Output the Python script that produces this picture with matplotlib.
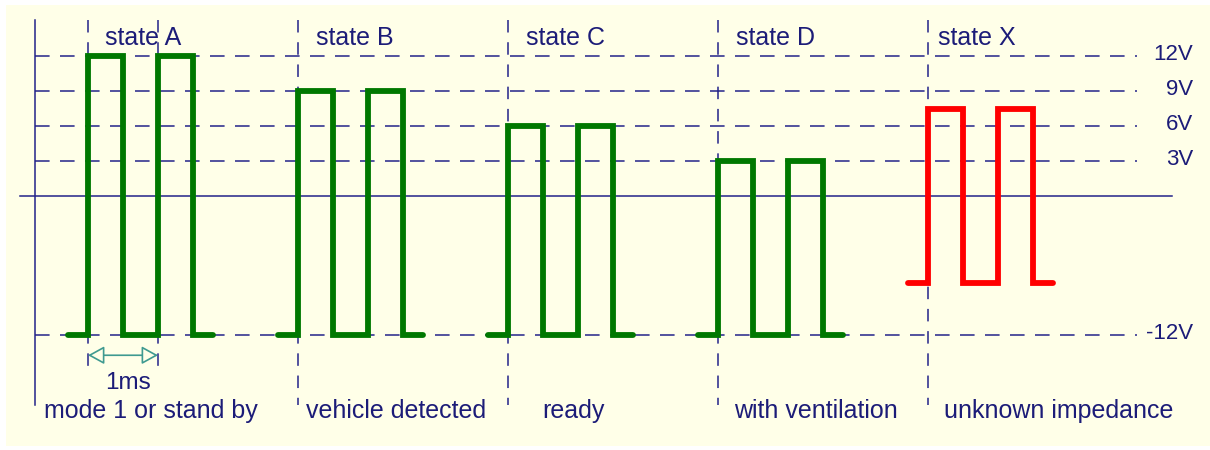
import matplotlib.pyplot as plt
import numpy as np

plt.rcParams['font.family'] = ['Liberation Sans', 'DejaVu Sans']
plt.rcParams['lines.scale_dashes'] = False

# data
states = ['state A', 'state B', 'state C', 'state D', 'state X']
start_ms = [0, 3, 6, 9, 12]
high_v = [12, 9, 6, 3, 7.5]
low_v = [-12, -12, -12, -12, -7.5]
descr = ['mode 1 or stand by', 'vehicle detected', 'ready', 'with ventilation', 'unknown impedance']
levels = [12, 9, 6, 3, -12]
level_labels = ['12V', '9V', '6V', '3V', '-12V']

# layout (ms / volts)
descr_x = [0.9, 4.4, 6.94, 10.4, 13.86]
state_dx = [0.24, 0.26, 0.25, 0.25, 0.14]
pulse_w = 0.5
lead = 0.28

navy = '#23238a'
txtc = '#1c1c78'
green = '#007800'
cream = '#ffffe8'

fig = plt.figure(figsize=(12.1, 4.5), dpi=100)
fig.patch.set_facecolor('white')
ax = fig.add_axes([0, 0, 1, 1])
ax.set_facecolor('none')
ax.add_patch(plt.Rectangle((6 / 1210, 0.008), 1, 0.981, transform=fig.transFigure,
                           facecolor=cream, edgecolor='none', zorder=0))
ax.set_xlim(-88 / 70, 1122 / 70)
ax.set_ylim(-21.85, 16.86)
ax.axis('off')

dash = (0, (10.5, 7.5))
# horizontal grid
for v in levels:
    ax.plot([-0.757, 14.99], [v, v], color=navy, lw=1.1, linestyle=dash, zorder=1)
ax.plot([-0.971, 15.49], [0, 0], color=navy, lw=1.1, zorder=1)
ax.plot([-0.757, -0.757], [15.14, -17.98], color=navy, lw=1.1, zorder=1)

# vertical dashed markers
for t in [0, 1]:
    ax.plot([t, t], [15.14, -14.8], color=navy, lw=1.1, linestyle=(0, (9, 7)), zorder=1)
for t in start_ms[1:]:
    ax.plot([t, t], [15.14, -17.98], color=navy, lw=1.1, linestyle=(0, (9, 7)), zorder=1)

# waveforms
for i, s in enumerate(start_ms):
    xs = [s - lead, s, s, s + pulse_w, s + pulse_w, s + 2 * pulse_w, s + 2 * pulse_w,
          s + 3 * pulse_w, s + 3 * pulse_w, s + 3 * pulse_w + lead]
    ys = [low_v[i], low_v[i], high_v[i], high_v[i], low_v[i], low_v[i], high_v[i],
          high_v[i], low_v[i], low_v[i]]
    col = 'red' if states[i] == 'state X' else green
    ax.plot(xs, ys, color=col, lw=4.2, solid_capstyle='round', solid_joinstyle='miter', zorder=3)
    ax.text(s + state_dx[i], 13.6, states[i], fontsize=18, color=txtc, va='center', ha='left')
    ax.text(descr_x[i], -18.5, descr[i], fontsize=18, color=txtc, va='center', ha='center')

# voltage labels
for v, lab in zip(levels, level_labels):
    ax.annotate(lab, (1193 / 70 - 88 / 70, v), xytext=(0, -2.5), textcoords='offset points',
                fontsize=16, color=txtc, ha='right', va='baseline')

# 1 ms arrow
ax.annotate('', xy=(0, -13.7), xytext=(1, -13.7),
            arrowprops=dict(arrowstyle='<|-|>,head_length=1.0,head_width=0.55',
                            fc=cream, ec='#3f9a90', lw=1.2, shrinkA=0, shrinkB=0), zorder=2)
ax.text(0.57, -16.1, '1ms', fontsize=17.5, color=txtc, va='center', ha='center')

fig.savefig('out.png', dpi=100)
